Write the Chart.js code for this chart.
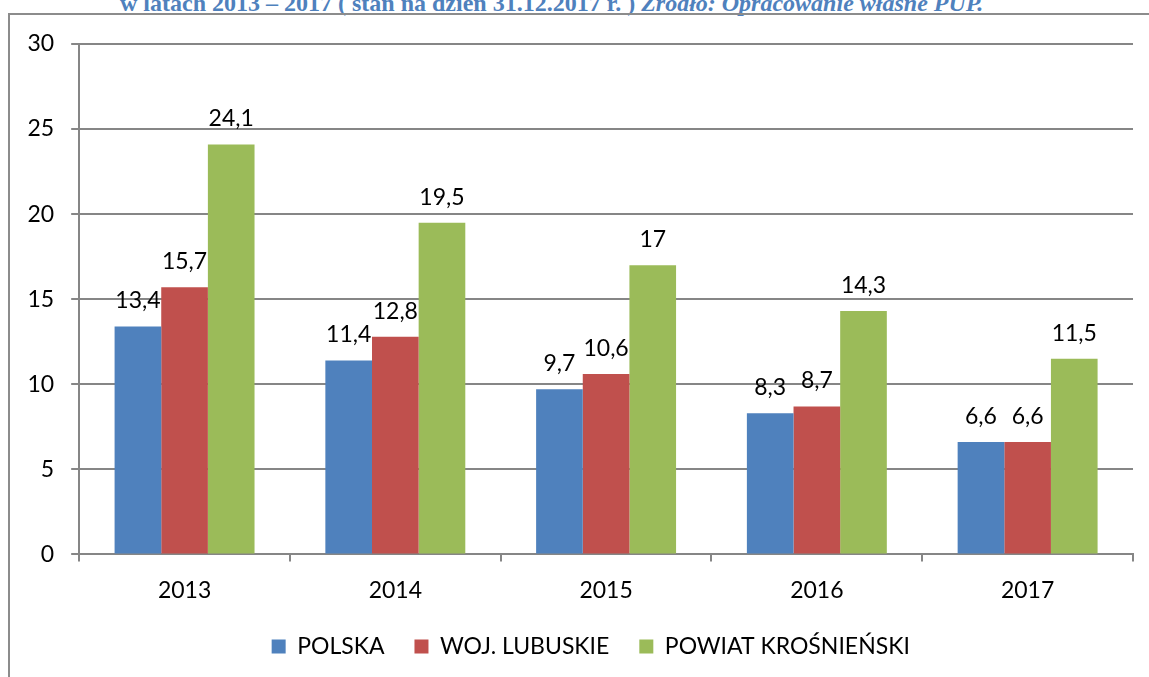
<!DOCTYPE html>
<html lang="pl">
<head>
<meta charset="utf-8">
<title>Stopa bezrobocia 2013-2017</title>
<script src="https://cdn.jsdelivr.net/npm/chart.js@4/dist/chart.umd.min.js"></script>
<style>
  html, body { margin: 0; padding: 0; background: #fff; overflow: hidden; }
  #hdr {
    position: absolute; left: 120px; top: -9px; white-space: nowrap;
    font-family: "Liberation Serif", serif; font-weight: bold; font-size: 24px;
    line-height: 24px; color: #4F81BD;
  }
  #frame {
    position: absolute; left: 8px; top: 13px; width: 1160px; height: 700px;
    border-left: 2px solid #8c8c8c; border-top: 2px solid #8c8c8c;
  }
  #chart { position: absolute; left: 0; top: 0; }
</style>
</head>
<body>
<div id="hdr">w latach 2013 – 2017 ( stan na dzień 31.12.2017 r. ) <i>Źródło: Opracowanie własne PUP.</i></div>
<div id="frame"></div>
<canvas id="chart" width="1149" height="677"></canvas>
<script>
const years = ['2013', '2014', '2015', '2016', '2017'];
const polska = [13.4, 11.4, 9.7, 8.3, 6.6];
const lubuskie = [15.7, 12.8, 10.6, 8.7, 6.6];
const krosnienski = [24.1, 19.5, 17, 14.3, 11.5];
const seriesNames = ['POLSKA', 'WOJ. LUBUSKIE', 'POWIAT KROŚNIEŃSKI'];
const colors = ['#4F81BD', '#C0504D', '#9BBB59'];

const gridColor = '#868686';
const font = { family: 'Lato', size: 23 };

// wartości nad słupkami (przecinek dziesiętny)
const valueLabels = {
    id: 'valueLabels',
    afterDatasetsDraw(chart) {
        const ctx = chart.ctx;
        ctx.save();
        ctx.font = '23px Lato';
        ctx.fillStyle = '#000';
        ctx.textAlign = 'center';
        ctx.textBaseline = 'alphabetic';
        chart.data.datasets.forEach((ds, i) => {
            chart.getDatasetMeta(i).data.forEach((bar, j) => {
                const txt = String(ds.data[j]).replace('.', ',');
                ctx.fillText(txt, bar.x, bar.y - 18);
            });
        });
        ctx.restore();
    }
};

// legenda przesunięta jak w oryginale
const legendShift = {
    id: 'legendShift',
    afterLayout(chart) {
        chart.legend.left += 19;
        chart.legend.right += 19;
        chart.legend.top -= 14;
        chart.legend.bottom -= 14;
    }
};

new Chart(document.getElementById('chart'), {
    type: 'bar',
    data: {
        labels: years,
        datasets: [
            { label: seriesNames[0], data: polska, backgroundColor: colors[0] },
            { label: seriesNames[1], data: lubuskie, backgroundColor: colors[1] },
            { label: seriesNames[2], data: krosnienski, backgroundColor: colors[2] }
        ]
    },
    options: {
        responsive: false,
        animation: false,
        layout: { padding: { top: 44, right: 16, left: 10.5, bottom: -5 } },
        datasets: {
            bar: { categoryPercentage: 0.664, barPercentage: 1 }
        },
        scales: {
            x: {
                grid: { display: true, drawOnChartArea: false, drawTicks: true, tickLength: 7, color: gridColor, lineWidth: 2, offset: true },
                border: { display: true, color: gridColor, width: 2 },
                ticks: { color: '#000', font: font, padding: 15 }
            },
            y: {
                min: 0,
                max: 30,
                ticks: { stepSize: 5, color: '#000', font: font, padding: 17 },
                grid: { color: gridColor, lineWidth: 2, tickLength: 8 },
                border: { display: true, color: gridColor, width: 2 }
            }
        },
        plugins: {
            legend: {
                position: 'bottom',
                maxHeight: 67,
                labels: { font: font, color: '#000', boxWidth: 14, boxHeight: 14, padding: 30 }
            },
            tooltip: { enabled: false }
        }
    },
    plugins: [valueLabels, legendShift]
});
</script>
</body>
</html>
